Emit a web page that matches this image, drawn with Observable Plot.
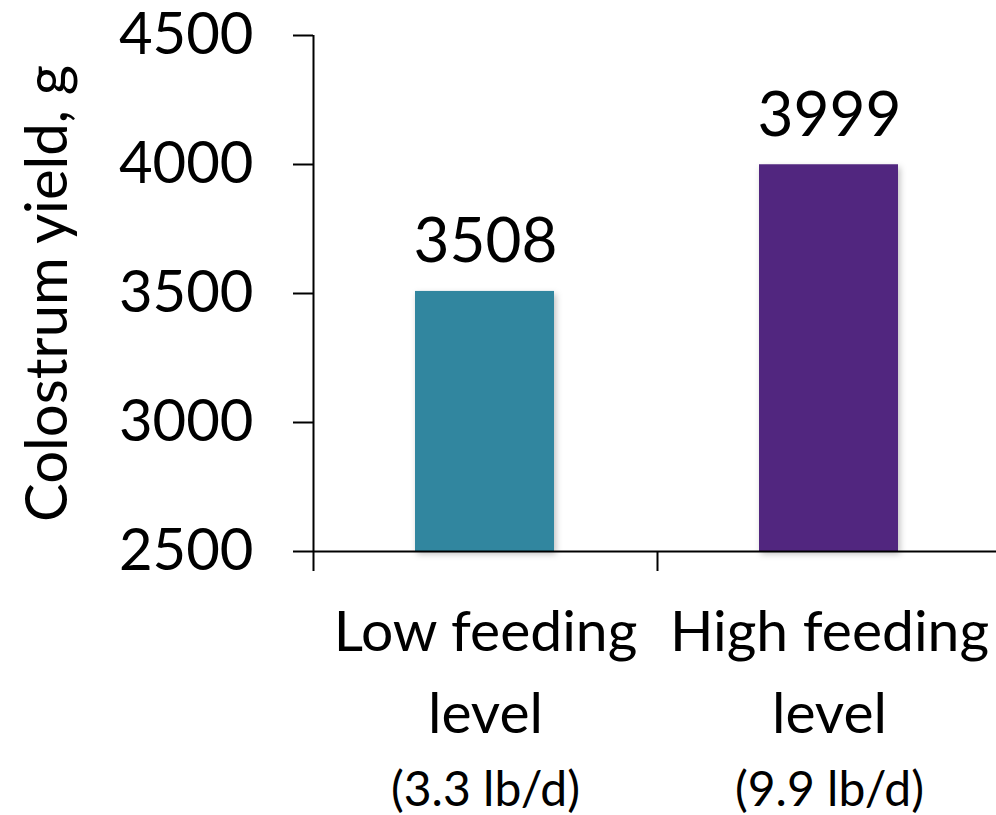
<!DOCTYPE html>
<html>
<head>
<meta charset="utf-8">
<script src="https://cdn.jsdelivr.net/npm/d3@7"></script>
<script src="https://cdn.jsdelivr.net/npm/@observablehq/plot@0.6"></script>
<style>
  html, body { margin: 0; padding: 0; background: #fff; }
</style>
</head>
<body>
<div id="chart"></div>
<script>
const categories = ["Low feeding level", "High feeding level"];
const yieldValues = [3508, 3999];
const barColors = ["#31869F", "#51267F"];
const labelLine1 = ["Low feeding", "High feeding"];
const labelLine2 = ["level", "level"];
const labelLine3 = ["(3.3 lb/d)", "(9.9 lb/d)"];
const yTicks = [2500, 3000, 3500, 4000, 4500];
const yLabel = "Colostrum yield, g";

const W = 996, H = 815;
const mLeft = 313, mTop = 35, mBottom = 264;
const xRange = [313, 1001];
const yMin = 2500, yMax = 4500;
const step = (xRange[1] - xRange[0]) / categories.length;
const tickPx = 20;
const unitsPerPx = (yMax - yMin) / (H - mTop - mBottom);
const tickUnits = tickPx * unitsPerPx;

const data = categories.map((c, i) => ({
  cat: c, value: yieldValues[i], l1: labelLine1[i], l2: labelLine2[i], l3: labelLine3[i]
}));

const chart = Plot.plot({
  width: W, height: H,
  marginLeft: mLeft, marginRight: 0, marginTop: mTop, marginBottom: mBottom,
  style: {fontFamily: "Lato", color: "#000", background: "#fff"},
  x: {type: "band", domain: categories, range: xRange, padding: 0, axis: null},
  y: {domain: [yMin, yMax]},
  color: {domain: categories, range: barColors},
  marks: [
    Plot.barY(data, {x: "cat", y1: yMin, y2: "value", fill: "cat", insetLeft: 102, insetRight: 103}),
    Plot.ruleY([yMin], {stroke: "#000", strokeWidth: 2}),
    Plot.ruleX([categories[0]], {x: d => d, dx: -step / 2, y1: yMax, y2: yMin - tickUnits, stroke: "#000", strokeWidth: 2}),
    Plot.ruleX(categories.slice(1), {x: d => d, dx: -step / 2, y1: yMin, y2: yMin - tickUnits, stroke: "#000", strokeWidth: 2}),
    Plot.axisY(yTicks, {tickSize: tickPx, tickPadding: 40, fontSize: 58, tickFormat: "d", stroke: "#000", strokeWidth: 2, label: null}),
    Plot.text(data, {x: "cat", y: "value", text: d => String(d.value), lineAnchor: "bottom", dy: -29, fontSize: 62, fill: "#000"}),
    Plot.text(data, {x: "cat", frameAnchor: "bottom", text: "l1", lineAnchor: "bottom", dy: 99, fontSize: 57, fill: "#000"}),
    Plot.text(data, {x: "cat", frameAnchor: "bottom", text: "l2", lineAnchor: "bottom", dy: 181, fontSize: 57, fill: "#000"}),
    Plot.text(data, {x: "cat", frameAnchor: "bottom", text: "l3", lineAnchor: "bottom", dy: 254, fontSize: 48, fill: "#000"}),
    Plot.text([yLabel], {frameAnchor: "left", textAnchor: "middle", rotate: -90, lineAnchor: "top", dx: -288, fontSize: 58, fill: "#000"})
  ]
});

const barG = chart.querySelector('g[aria-label="bar"]');
if (barG) barG.style.filter = "drop-shadow(2px 3px 3px rgba(0,0,0,0.25))";
document.getElementById("chart").appendChild(chart);
</script>
</body>
</html>
